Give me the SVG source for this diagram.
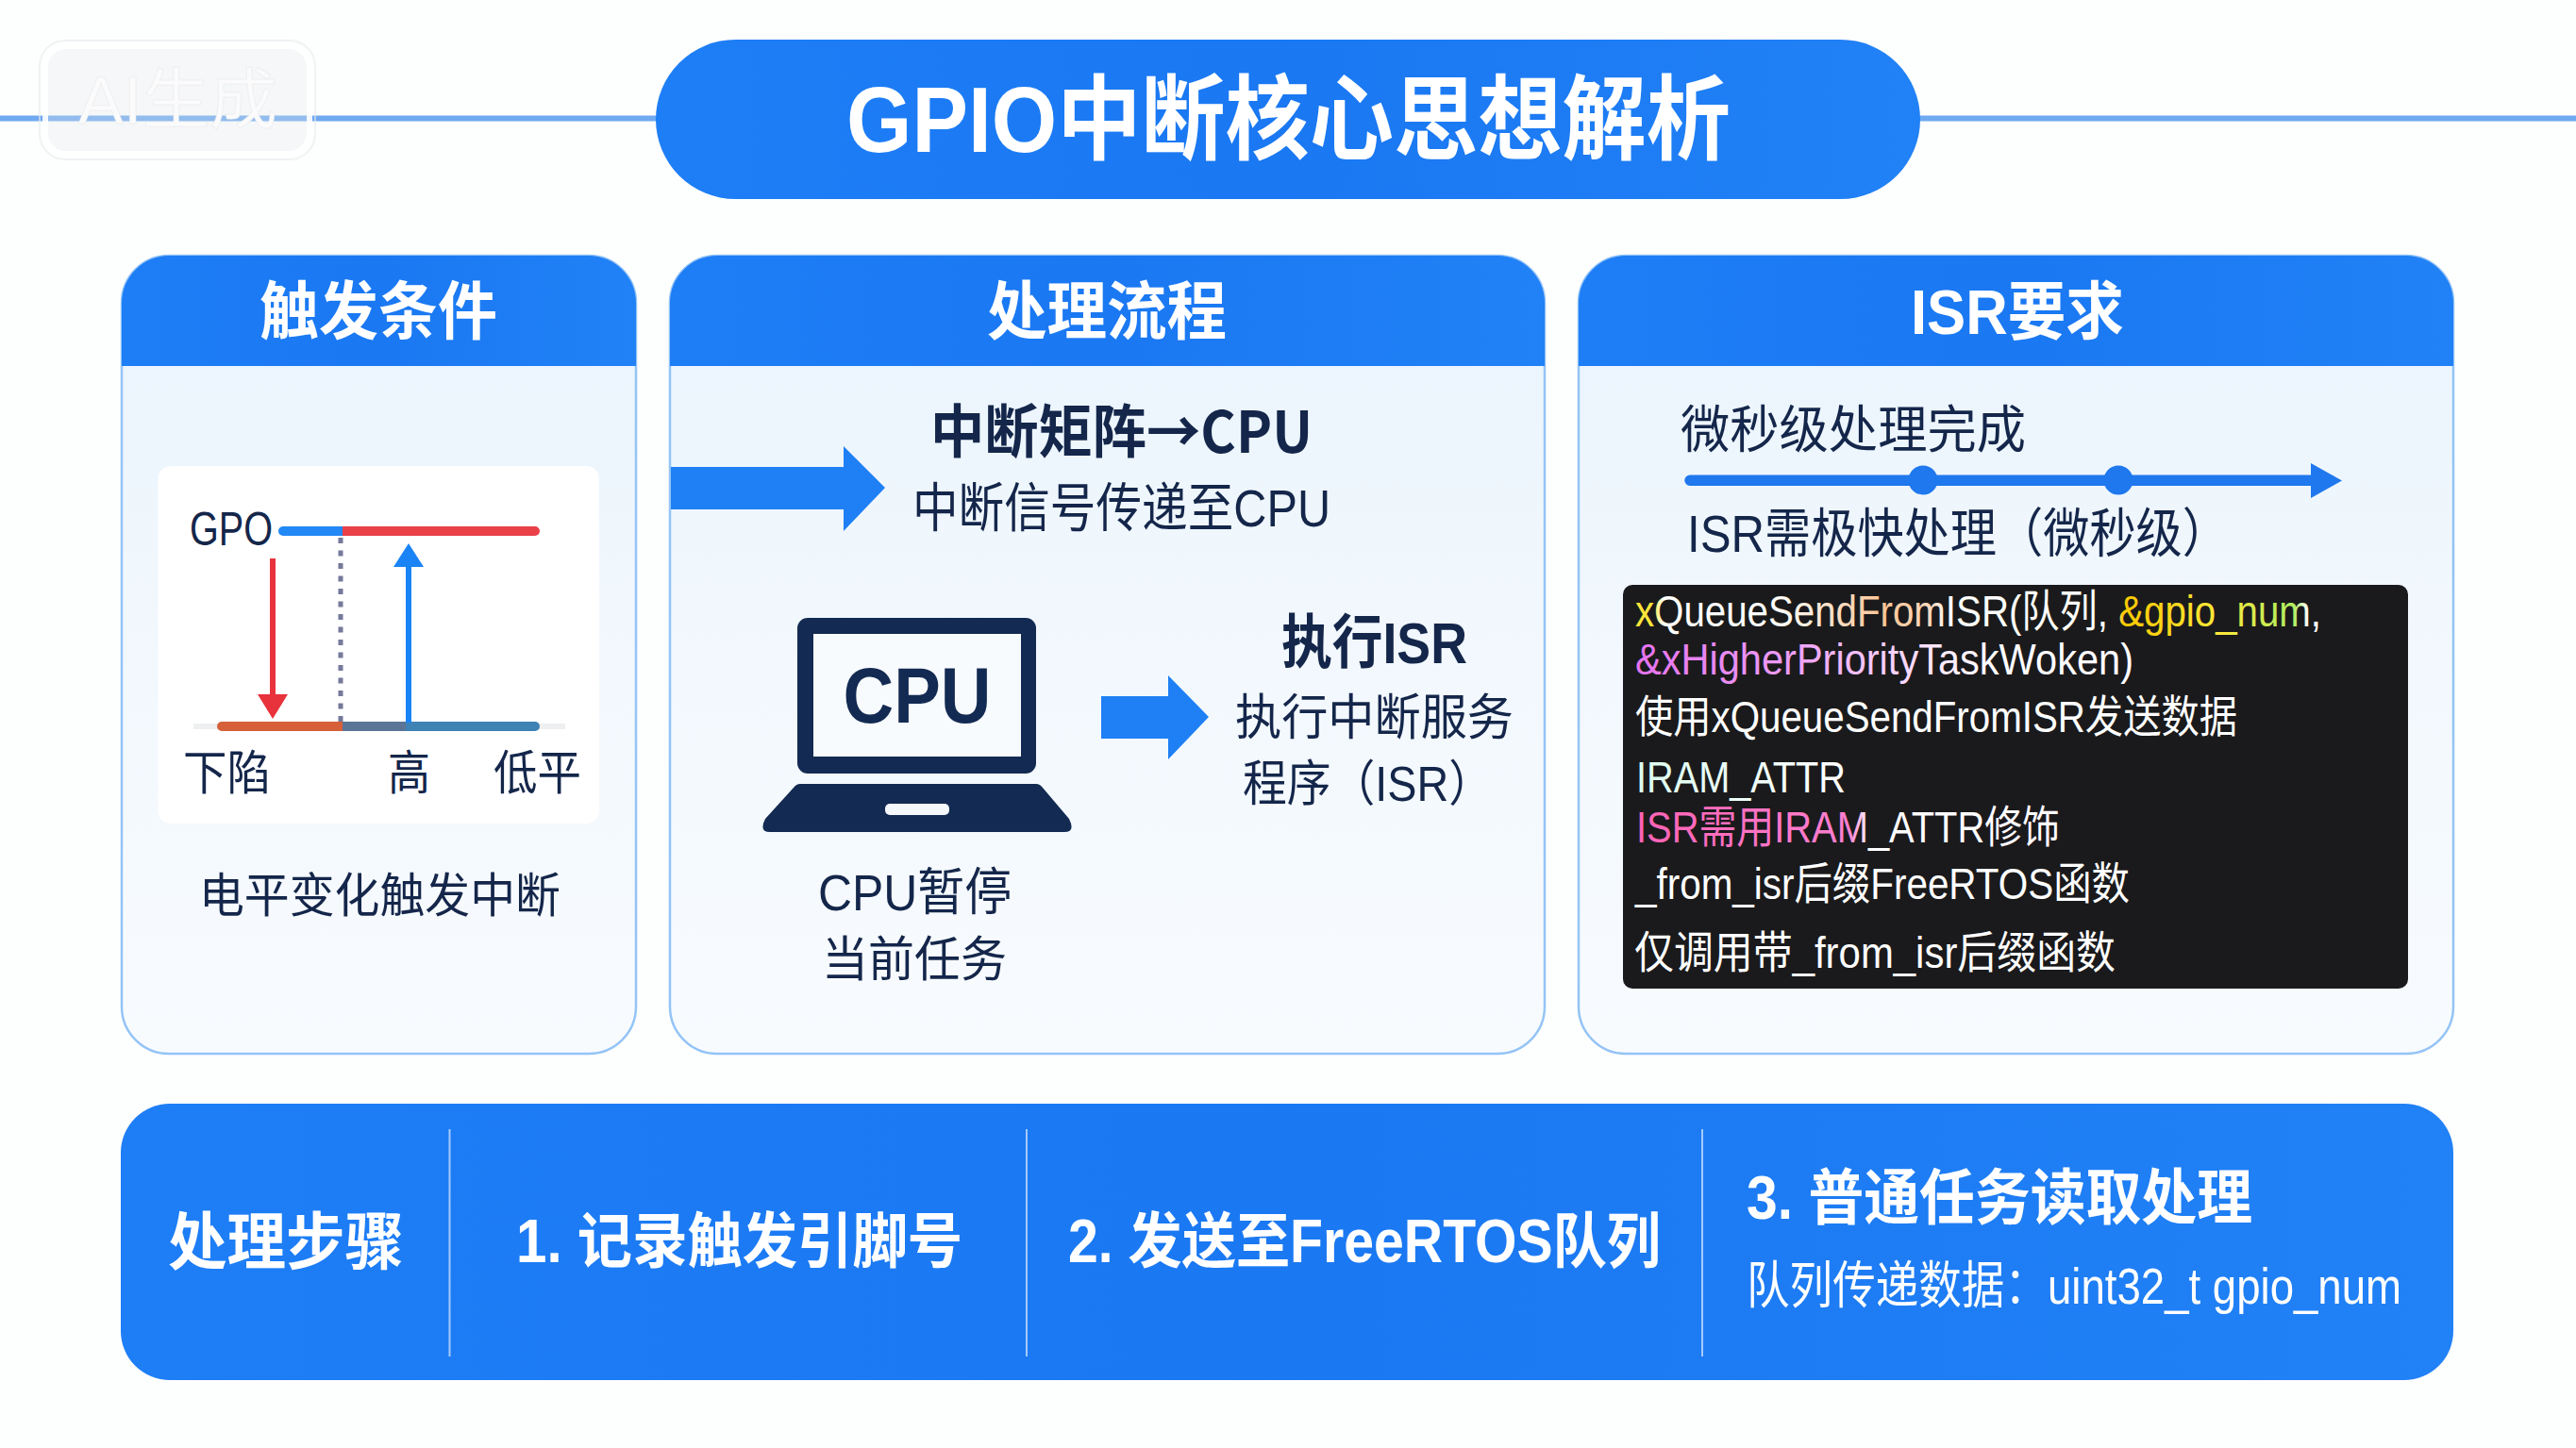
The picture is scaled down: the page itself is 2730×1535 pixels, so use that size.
<svg xmlns="http://www.w3.org/2000/svg" width="2730" height="1535" viewBox="0 0 2730 1535">
<style>
text{font-family:"Liberation Sans","Noto Sans CJK SC",sans-serif}
.w{fill:#fff}.b{font-weight:700}.d{fill:#14264a}
.card{fill:url(#cardBg);stroke:#94c4f6;stroke-width:2.5}
.head{fill:url(#blue)}
.hd{font-size:67px;font-weight:700;fill:#fff}
.code{font-size:47px;fill:#fff}
.blueS{fill:#1f80f5}
.div{stroke:#fff;stroke-opacity:.6;stroke-width:2}
.cjk{font-family:"Noto Sans CJK SC",sans-serif}
</style>
<defs>
<linearGradient id="blue" x1="0" y1="0" x2="1" y2="0"><stop offset="0" stop-color="#1e7ef6"/><stop offset=".5" stop-color="#1a78f2"/><stop offset="1" stop-color="#2181f6"/></linearGradient>
<linearGradient id="cardBg" x1="0" y1="0" x2="0" y2="1"><stop offset="0" stop-color="#e9f4fd"/><stop offset=".5" stop-color="#f2f8fd"/><stop offset="1" stop-color="#f8fbfe"/></linearGradient>
<linearGradient id="c1" gradientUnits="userSpaceOnUse" x1="1734" y1="0" x2="2460" y2="0">
<stop offset="0" stop-color="#ffe63a"/><stop offset=".025" stop-color="#ffe63a"/><stop offset=".04" stop-color="#fff"/><stop offset=".2" stop-color="#fff"/><stop offset=".36" stop-color="#ffc596"/><stop offset=".43" stop-color="#ffd9c0"/><stop offset=".46" stop-color="#fff"/><stop offset=".7" stop-color="#fff"/><stop offset=".71" stop-color="#ffc800"/><stop offset=".85" stop-color="#ffe83a"/><stop offset=".96" stop-color="#aef060"/><stop offset=".98" stop-color="#fff"/><stop offset="1" stop-color="#fff"/>
</linearGradient>
<linearGradient id="c2" gradientUnits="userSpaceOnUse" x1="1734" y1="0" x2="2261" y2="0"><stop offset="0" stop-color="#e673f0"/><stop offset=".3" stop-color="#ec9cf5"/><stop offset=".6" stop-color="#fbe6fd"/><stop offset=".72" stop-color="#fff"/><stop offset="1" stop-color="#fff"/></linearGradient>
<linearGradient id="c5" gradientUnits="userSpaceOnUse" x1="1736" y1="0" x2="2183" y2="0"><stop offset="0" stop-color="#ff62b4"/><stop offset=".5" stop-color="#ff80d0"/><stop offset=".55" stop-color="#fff"/><stop offset="1" stop-color="#fff"/></linearGradient>
<linearGradient id="c4" gradientUnits="userSpaceOnUse" x1="1736" y1="0" x2="1956" y2="0"><stop offset="0" stop-color="#dcfff0"/><stop offset="1" stop-color="#fff"/></linearGradient>
</defs>

<rect width="2730" height="1535" fill="#fdfefe"/>

<g id="rule">
<rect x="0" y="122.500" width="700" height="6" fill="#6fa9f0"/>
<rect x="2030" y="122.500" width="700" height="6" fill="#6fa9f0"/>
</g>

<g id="watermark">
<rect x="42" y="43" width="292" height="126" rx="27" fill="none" stroke="#e8eaec" stroke-opacity=".6" stroke-width="2"/>
<rect x="48" y="49" width="280" height="114" rx="22" fill="#e6e8ea" fill-opacity=".3" stroke="#fff" stroke-opacity=".9" stroke-width="6"/>
<text x="83" y="131" font-size="70" textLength="211" lengthAdjust="spacingAndGlyphs" fill="#fbfbfc" stroke="#e2e4e6" stroke-opacity=".45" stroke-width="1">AI生成</text>
</g>

<g id="title">
<rect x="695" y="42" width="1340" height="169" rx="84.500" fill="url(#blue)"/>
<text class="w b" x="897" y="161" font-size="98" textLength="937" lengthAdjust="spacingAndGlyphs">GPIO中断核心思想解析</text>
</g>

<g id="card-trigger">
<rect class="card" x="129" y="271" width="545" height="846" rx="50"/>
<path class="head" d="M129 388V321a50 50 0 0 1 50-50H624a50 50 0 0 1 50 50V388Z"/>
<text class="hd" x="275" y="354" textLength="252" lengthAdjust="spacingAndGlyphs">触发条件</text>
<rect x="167.500" y="494" width="467.500" height="379" rx="14" fill="#fff"/>
<text class="d" x="201" y="578" font-size="50" textLength="88" lengthAdjust="spacingAndGlyphs">GPO</text>
<rect x="205" y="767" width="394" height="6" fill="#eeeff0"/>
<path d="M300 558H363V568H300a5 5 0 0 1 0-10Z" fill="#2288f5"/>
<path d="M363 558H567a5 5 0 0 1 0 10H363Z" fill="#ea4048"/>
<path d="M235 765H363V775H235a5 5 0 0 1 0-10Z" fill="#d6603a"/>
<path d="M363 765H567a5 5 0 0 1 0 10H363Z" fill="#3f82b4"/>
<path d="M363 765H430V775H363Z" fill="#5a7596"/>
<line x1="361" y1="570" x2="361" y2="765" stroke="#75799a" stroke-width="5" stroke-dasharray="6 7.500"/>
<text class="d" x="194" y="837" font-size="50" textLength="93" lengthAdjust="spacingAndGlyphs">下陷</text>
<text class="d" x="411" y="837" font-size="50" textLength="45" lengthAdjust="spacingAndGlyphs">高</text>
<text class="d" x="523" y="837" font-size="50" textLength="93" lengthAdjust="spacingAndGlyphs">低平</text>
<text class="d" x="211" y="967" font-size="50" textLength="383" lengthAdjust="spacingAndGlyphs">电平变化触发中断</text>
</g>

<g id="card-flow">
<rect class="card" x="710" y="271" width="927" height="846" rx="50"/>
<path class="head" d="M710 388V321a50 50 0 0 1 50-50H1587a50 50 0 0 1 50 50V388Z"/>
<text class="hd" x="1046" y="354" textLength="254" lengthAdjust="spacingAndGlyphs">处理流程</text>
<text class="d b cjk" x="986" y="480" font-size="61" textLength="405" lengthAdjust="spacingAndGlyphs">中断矩阵→CPU</text>
<text class="d" x="967" y="558" font-size="56" textLength="443" lengthAdjust="spacingAndGlyphs">中断信号传递至CPU</text>
<g id="laptop">
<rect x="845" y="655" width="253" height="165" rx="11" fill="#132a52"/>
<rect x="862" y="672" width="220" height="130" fill="#f8fbfe"/>
<text x="972" y="766" font-size="84" font-weight="700" fill="#132a52" text-anchor="middle" textLength="157" lengthAdjust="spacingAndGlyphs">CPU</text>
<path d="M848 831H1098Q1102 831 1105 835L1133 868Q1140 882 1128 882H816Q804 882 811 868L841 835Q844 831 848 831Z" fill="#132a52"/>
<rect x="938" y="852" width="68" height="12" rx="5" fill="#f4f7fb"/>
</g>
<text class="d b" x="1358" y="703" font-size="62" textLength="197" lengthAdjust="spacingAndGlyphs">执行ISR</text>
<text class="d" x="1309" y="779" font-size="52" textLength="295" lengthAdjust="spacingAndGlyphs">执行中断服务</text>
<text class="d" x="1317" y="849" font-size="52" textLength="265" lengthAdjust="spacingAndGlyphs">程序（ISR）</text>
<text class="d" x="867" y="965" font-size="54" textLength="205" lengthAdjust="spacingAndGlyphs">CPU暂停</text>
<text class="d" x="871" y="1035" font-size="51" textLength="196" lengthAdjust="spacingAndGlyphs">当前任务</text>
</g>

<g id="card-isr">
<rect class="card" x="1673" y="271" width="927" height="846" rx="50"/>
<path class="head" d="M1673 388V321a50 50 0 0 1 50-50H2550a50 50 0 0 1 50 50V388Z"/>
<text class="hd" x="2025" y="354" textLength="226" lengthAdjust="spacingAndGlyphs">ISR要求</text>
<text class="d" x="1781" y="475" font-size="54" textLength="366" lengthAdjust="spacingAndGlyphs">微秒级处理完成</text>
<text class="d" x="1788" y="585" font-size="56" textLength="574" lengthAdjust="spacingAndGlyphs">ISR需极快处理（微秒级）</text>
<g id="code-box">
<rect x="1720" y="620" width="832" height="428" rx="10" fill="#1a1a1c"/>
<text class="code" x="1733" y="664" textLength="727" lengthAdjust="spacingAndGlyphs" style="fill:url(#c1)">xQueueSendFromISR(队列, &amp;gpio_num,</text>
<text class="code" x="1733" y="715" textLength="528" lengthAdjust="spacingAndGlyphs" style="fill:url(#c2)">&amp;xHigherPriorityTaskWoken)</text>
<text class="code" x="1733" y="776" textLength="638" lengthAdjust="spacingAndGlyphs">使用xQueueSendFromISR发送数据</text>
<text class="code" x="1734" y="840" textLength="222" lengthAdjust="spacingAndGlyphs" style="fill:url(#c4)">IRAM_ATTR</text>
<text class="code" x="1734" y="893" textLength="449" lengthAdjust="spacingAndGlyphs" style="fill:url(#c5)">ISR需用IRAM_ATTR修饰</text>
<text class="code" x="1733" y="953" textLength="524" lengthAdjust="spacingAndGlyphs">_from_isr后缀FreeRTOS函数</text>
<text class="code" x="1732" y="1026" textLength="510" lengthAdjust="spacingAndGlyphs">仅调用带_from_isr后缀函数</text>
</g>
</g>

<g id="steps-bar">
<rect x="128" y="1170" width="2472" height="293" rx="52" fill="url(#blue)"/>
<line class="div" x1="476.500" y1="1197" x2="476.500" y2="1438"/>
<line class="div" x1="1088" y1="1197" x2="1088" y2="1438"/>
<line class="div" x1="1804" y1="1197" x2="1804" y2="1438"/>
<text class="w b" x="178" y="1340" font-size="66" textLength="250" lengthAdjust="spacingAndGlyphs">处理步骤</text>
<text class="w b" x="547" y="1338" font-size="64" textLength="473" lengthAdjust="spacingAndGlyphs">1. 记录触发引脚号</text>
<text class="w b" x="1132" y="1338" font-size="64" textLength="628" lengthAdjust="spacingAndGlyphs">2. 发送至FreeRTOS队列</text>
<text class="w b" x="1851" y="1292" font-size="64" textLength="536" lengthAdjust="spacingAndGlyphs">3. 普通任务读取处理</text>
<text class="w" x="1851" y="1382" font-size="54" textLength="694" lengthAdjust="spacingAndGlyphs">队列传递数据：uint32_t gpio_num</text>
</g>

<g id="connectors">
<path class="blueS" d="M711 495H894V473L938 517L894 563V540H711Z"/>
<path class="blueS" d="M1167 738H1238V716L1281 760L1238 805V783H1167Z"/>
<line x1="289" y1="592" x2="289" y2="738" stroke="#e8323c" stroke-width="6"/>
<path d="M273 736H305L289 762Z" fill="#e8323c"/>
<line x1="433" y1="766" x2="433" y2="598" stroke="#1a84f6" stroke-width="6"/>
<path d="M417 601H449L433 576Z" fill="#1a84f6"/>
<path d="M1791 503.500H2449V491L2482 509.500L2449 528V515H1791a5.500 5.500 0 0 1 0-11.500Z" fill="#1f78ee"/>
<circle cx="2038" cy="509" r="15.500" fill="#1f78ee"/>
<circle cx="2245" cy="509" r="15.500" fill="#1f78ee"/>
</g>
</svg>
